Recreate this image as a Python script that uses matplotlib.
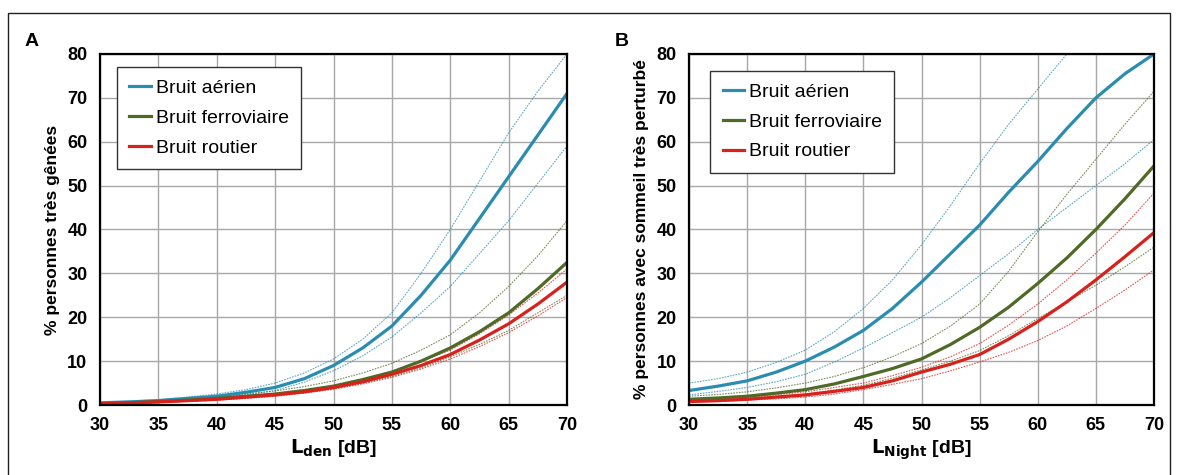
import numpy as np
import matplotlib.pyplot as plt
from matplotlib.patches import Rectangle

plt.rcParams['font.family'] = ['Liberation Sans', 'DejaVu Sans']

# niveaux sonores [dB]
niveaux = [30, 32.5, 35, 37.5, 40, 42.5, 45, 47.5, 50,
           52.5, 55, 57.5, 60, 62.5, 65, 67.5, 70]

# A : % personnes très gênées (Lden)
a_aerien = [0.5, 0.7, 1.0, 1.5, 2.0, 2.9, 4.0, 6.0, 9.0,
            13.0, 18.0, 25.0, 33.0, 42.5, 52.0, 61.5, 71.0]
a_aerien_haut = [0.6, 0.9, 1.2, 1.8, 2.5, 3.5, 5.0, 7.3, 10.5,
                 15.0, 21.0, 30.0, 40.0, 51.0, 62.0, 71.5, 80.0]
a_aerien_bas = [0.4, 0.6, 0.8, 1.2, 1.6, 2.3, 3.3, 5.2, 7.8,
                11.2, 15.5, 21.0, 27.0, 34.5, 42.0, 50.5, 59.0]
a_fer = [0.3, 0.5, 0.8, 1.1, 1.5, 2.0, 2.5, 3.3, 4.3,
         5.8, 7.5, 10.0, 13.0, 16.7, 21.0, 26.5, 32.5]
a_fer_haut = [0.4, 0.7, 1.0, 1.4, 1.9, 2.5, 3.2, 4.2, 5.5,
              7.3, 9.5, 12.5, 16.0, 21.0, 27.0, 34.0, 42.0]
a_fer_bas = [0.2, 0.4, 0.6, 0.9, 1.2, 1.6, 2.1, 2.8, 3.7,
             5.0, 6.5, 8.5, 11.0, 13.8, 17.0, 21.0, 25.0]
a_route = [0.3, 0.5, 0.7, 1.0, 1.3, 1.8, 2.3, 3.0, 4.0,
           5.3, 7.0, 9.0, 11.5, 14.8, 18.5, 23.0, 28.0]
a_route_haut = [0.4, 0.6, 0.8, 1.1, 1.5, 2.0, 2.6, 3.4, 4.4,
                5.8, 7.7, 9.9, 12.5, 16.2, 20.5, 25.5, 31.0]
a_route_bas = [0.2, 0.4, 0.6, 0.8, 1.1, 1.5, 2.0, 2.7, 3.6,
               4.8, 6.3, 8.2, 10.5, 13.3, 16.5, 20.3, 24.5]

# B : % personnes avec sommeil très perturbé (Lnight)
b_aerien = [3.3, 4.3, 5.5, 7.5, 10.0, 13.2, 17.0, 22.0, 28.0,
            34.5, 41.0, 48.5, 55.5, 63.0, 70.0, 75.5, 80.0]
b_aerien_haut = [5.0, 6.0, 7.5, 9.7, 12.5, 16.7, 22.0, 28.5, 36.5,
                 45.5, 55.0, 64.0, 72.0, 80.0, 86.5, 91.0, 95.0]
b_aerien_bas = [2.3, 3.1, 4.0, 5.3, 7.0, 9.8, 13.0, 16.5, 20.0,
                24.5, 29.5, 34.5, 40.0, 45.0, 50.0, 55.0, 60.5]
b_fer = [1.3, 1.6, 2.0, 2.7, 3.5, 4.8, 6.5, 8.3, 10.5,
         13.8, 17.7, 22.3, 27.7, 33.5, 40.0, 47.0, 54.5]
b_fer_haut = [2.0, 2.4, 3.0, 3.9, 5.0, 6.5, 8.5, 11.0, 14.0,
              18.0, 23.0, 30.5, 39.5, 48.0, 56.0, 64.0, 71.5]
b_fer_bas = [1.0, 1.3, 1.6, 2.0, 2.5, 3.4, 4.5, 6.1, 8.0,
             10.0, 12.4, 15.8, 19.7, 23.5, 27.3, 31.5, 36.0]
b_route = [0.8, 1.0, 1.3, 1.8, 2.3, 3.1, 4.0, 5.5, 7.5,
           9.3, 11.5, 15.0, 19.0, 23.5, 28.5, 33.8, 39.3]
b_route_haut = [1.0, 1.3, 1.8, 2.3, 3.0, 4.0, 5.0, 6.7, 8.6,
                11.0, 14.0, 18.2, 23.0, 28.5, 34.6, 41.0, 48.3]
b_route_bas = [0.6, 0.8, 1.1, 1.4, 1.8, 2.5, 3.5, 4.7, 6.0,
               7.8, 9.8, 12.0, 14.7, 18.0, 22.0, 26.2, 30.8]

libelles = ["Bruit aérien", "Bruit ferroviaire", "Bruit routier"]
couleurs = ["#2a8db0", "#4f6a26", "#d8211c"]


def tracer(ax, series, ylabel, xlabel, ancre):
    for (moy, haut, bas), c in zip(series, couleurs):
        ax.plot(niveaux, haut, color=c, lw=0.8, ls=(0, (1.5, 1)), alpha=0.75)
        ax.plot(niveaux, bas, color=c, lw=0.8, ls=(0, (1.5, 1)), alpha=0.75)
    for (moy, haut, bas), c, lab in zip(series, couleurs, libelles):
        ax.plot(niveaux, moy, color=c, lw=2.3, label=lab)
    ax.set_xlim(30, 70)
    ax.set_ylim(0, 80)
    ax.set_xticks(range(30, 71, 5))
    ax.set_yticks(range(0, 81, 10))
    ax.grid(True, color="#a8a8a8", lw=1)
    ax.set_axisbelow(True)
    ax.tick_params(length=0, pad=9, labelsize=13)
    for t in ax.get_xticklabels() + ax.get_yticklabels():
        t.set_fontweight("bold")
    for s in ax.spines.values():
        s.set_linewidth(1.6)
    ax.set_ylabel(ylabel, fontsize=12.5, fontweight="bold", labelpad=5)
    ax.set_xlabel(xlabel, fontsize=14, fontweight="bold", labelpad=2)
    leg = ax.legend(loc="upper left", bbox_to_anchor=ancre, fontsize=14,
                    fancybox=False, edgecolor="#333333", framealpha=1,
                    handlelength=1.1, handletextpad=0.25, labelspacing=0.62,
                    borderpad=0.65, borderaxespad=0)
    leg.get_frame().set_linewidth(1.0)


fig = plt.figure(figsize=(11.78, 4.75), dpi=100)
axA = fig.add_axes([100 / 1178, 1 - 405 / 475, 467 / 1178, 351 / 475])
axB = fig.add_axes([689 / 1178, 1 - 405 / 475, 465 / 1178, 351 / 475])

tracer(axA, [(a_aerien, a_aerien_haut, a_aerien_bas),
             (a_fer, a_fer_haut, a_fer_bas),
             (a_route, a_route_haut, a_route_bas)],
       "% personnes très gênées", r"$\mathbf{L_{den}}$ [dB]", (0.036, 0.963))
tracer(axB, [(b_aerien, b_aerien_haut, b_aerien_bas),
             (b_fer, b_fer_haut, b_fer_bas),
             (b_route, b_route_haut, b_route_bas)],
       "% personnes avec sommeil très perturbé", r"$\mathbf{L_{Night}}$ [dB]",
       (0.045, 0.952))

fig.text(25 / 1178, 1 - 42 / 475, "A", fontsize=14, fontweight="bold", va="center")
fig.text(615 / 1178, 1 - 42 / 475, "B", fontsize=14, fontweight="bold", va="center")

# cadre extérieur
fig.patches.append(Rectangle((8 / 1178, -0.05), 1162 / 1178, 1.05 - 13 / 475,
                             transform=fig.transFigure, fill=False,
                             edgecolor="#222222", lw=1.0))

fig.savefig("out.png", dpi=100)
